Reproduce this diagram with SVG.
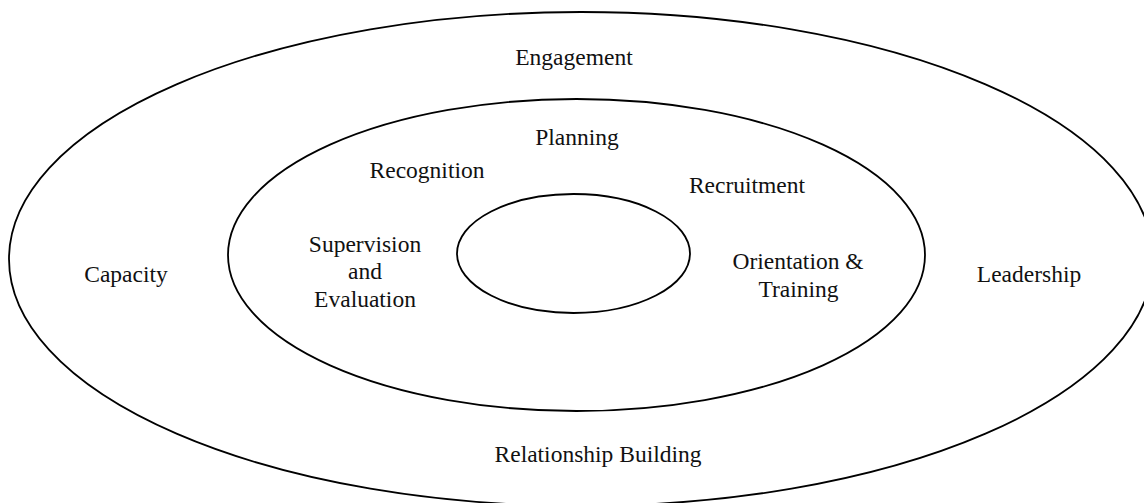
<svg xmlns="http://www.w3.org/2000/svg" width="1144" height="503" viewBox="0 0 1144 503">
<style>
.ring{fill:none;stroke:#000;stroke-width:1.8}
.lbl{font-family:"Liberation Serif","Times New Roman",serif;font-size:23.5px;fill:#111;text-anchor:middle}
</style>
<rect width="1144" height="503" fill="#fff"/>
<g id="outer-ring"><ellipse class="ring" cx="581" cy="259" rx="572" ry="247"/></g>
<g id="middle-ring"><ellipse class="ring" cx="576.5" cy="255" rx="348.5" ry="156"/></g>
<g id="inner-core"><ellipse class="ring" cx="573.5" cy="253.5" rx="116.5" ry="59.5"/></g>
<g id="connectors"></g>
<g id="engagement"><text class="lbl" x="574" y="65">Engagement</text></g>
<g id="capacity"><text class="lbl" x="126" y="282">Capacity</text></g>
<g id="leadership"><text class="lbl" x="1029" y="282">Leadership</text></g>
<g id="relationship-building"><text class="lbl" x="598" y="462">Relationship Building</text></g>
<g id="planning"><text class="lbl" x="577" y="145">Planning</text></g>
<g id="recognition"><text class="lbl" x="427" y="178">Recognition</text></g>
<g id="recruitment"><text class="lbl" x="747" y="193">Recruitment</text></g>
<g id="supervision"><text class="lbl" x="365" y="252">Supervision</text><text class="lbl" x="365" y="279">and</text><text class="lbl" x="365" y="307">Evaluation</text></g>
<g id="orientation"><text class="lbl" x="798" y="269">Orientation &amp;</text><text class="lbl" x="798.5" y="297">Training</text></g>
</svg>
